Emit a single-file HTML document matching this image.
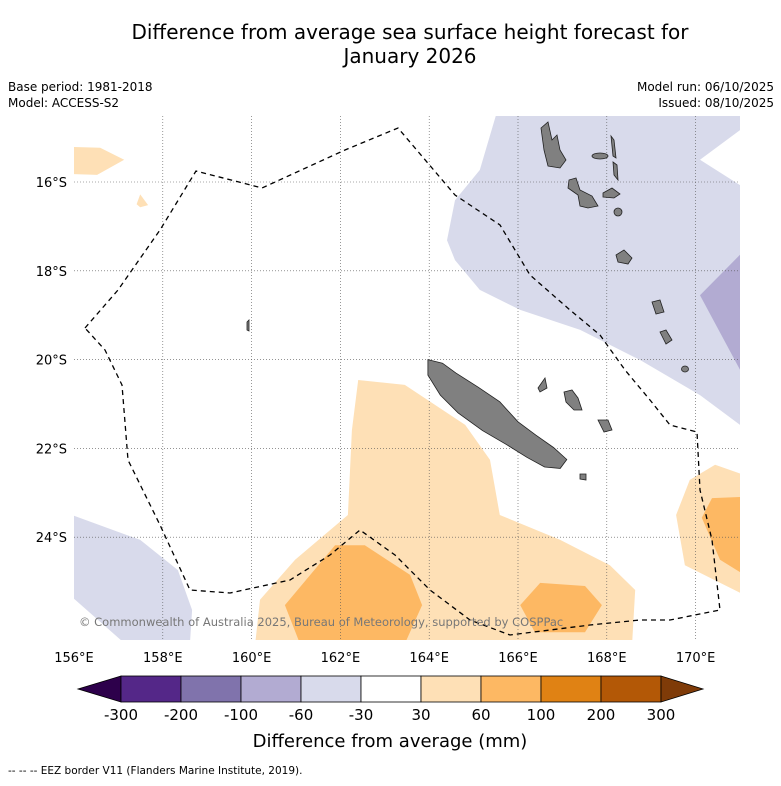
<!DOCTYPE html>
<html><head><meta charset="utf-8"><style>
body{margin:0;background:#fff;font-family:"Liberation Sans","DejaVu Sans",sans-serif;}
svg text{font-family:"DejaVu Sans","Liberation Sans",sans-serif;}
</style></head><body>
<svg id="chart" width="781" height="781" viewBox="0 0 781 781" xmlns="http://www.w3.org/2000/svg">
<rect width="781" height="781" fill="#fff"/>
<text x="410" y="39" font-size="20" text-anchor="middle">Difference from average sea surface height forecast for</text>
<text x="410" y="63" font-size="20" text-anchor="middle">January 2026</text>
<text x="8" y="91" font-size="12">Base period: 1981-2018</text>
<text x="8" y="107" font-size="12">Model: ACCESS-S2</text>
<text x="774" y="91" font-size="12" text-anchor="end">Model run: 06/10/2025</text>
<text x="774" y="107" font-size="12" text-anchor="end">Issued: 08/10/2025</text>
<defs><clipPath id="mapclip"><rect x="74" y="116" width="666" height="524"/></clipPath></defs>
<g id="map" clip-path="url(#mapclip)"></g>
<g id="grid"></g>
<g id="land" clip-path="url(#mapclip)" fill="#808080" stroke="#222" stroke-width="0.8">
<path d="M541,128 L548,122 L552,140 L557,135 L560,150 L566,160 L560,168 L548,166 L544,150 Z"/>
<ellipse cx="600" cy="156" rx="8" ry="3"/>
<path d="M611,136 L614,140 L616,158 L613,156 Z"/>
<path d="M613,162 L617,165 L618,180 L614,175 Z"/>
<path d="M569,180 L576,178 L580,190 L592,196 L598,206 L588,208 L580,206 L578,195 L568,188 Z"/>
<path d="M603,193 L612,188 L620,194 L614,198 L603,197 Z"/>
<ellipse cx="618" cy="212" rx="4" ry="4"/>
<path d="M616,255 L624,250 L632,258 L628,264 L618,262 Z"/>
<path d="M652,302 L660,300 L664,312 L656,314 Z"/>
<path d="M660,332 L666,330 L672,340 L666,344 Z"/>
<ellipse cx="685" cy="369" rx="3.5" ry="3"/>
<path d="M247,322 L249,320 L249,331 L247,330 Z"/>
<path d="M564,392 L572,390 L578,398 L582,410 L574,410 L566,402 Z"/>
<path d="M598,420 L608,420 L612,430 L604,432 Z"/>
<path d="M580,474 L586,474 L586,480 L580,479 Z"/>
<path d="M538,388 L545,378 L547,388 L540,392 Z"/>
<path id="nc"/>
</g>
<path clip-path="url(#mapclip)" d="M85,328 L118,290 L160,230 L196,171 L262,188 L345,150 L398,128 L455,195 L500,225 L530,275 L570,310 L600,335 L625,370 L650,400 L670,425 L697,432 L700,490 L712,540 L720,610 L670,620 L640,620 L590,625 L510,635 L470,620 L430,590 L395,555 L360,530 L330,555 L290,580 L230,593 L190,590 L160,525 L128,460 L122,385 L105,350 Z" fill="none" stroke="#000" stroke-width="1.3" stroke-dasharray="5,4"/>
<text x="79" y="626" font-size="11.5" fill="#777">© Commonwealth of Australia 2025, Bureau of Meteorology, supported by COSPPac</text>
<g id="axes"></g>
<g id="cbar"></g>
<text x="390" y="747" font-size="18" text-anchor="middle">Difference from average (mm)</text>
<text x="8" y="774" font-size="10.5">--  --  -- EEZ border V11 (Flanders Marine Institute, 2019).</text>
</svg>
<script>
const lonTicks=[156,158,160,162,164,166,168,170];
const latTicks=[16,18,20,22,24];
const levelLabels=["-300","-200","-100","-60","-30","30","60","100","200","300"];
const levelColors=["#542788","#8073ac","#b2abd2","#d8daeb","#ffffff","#fee0b6","#fdb863","#e08214","#b35806"];
const extendColors=["#2d004b","#7f3b08"];
// contour regions [lon, lat(S)]
const regionLightPurple=[[165.5,14.51],[171,14.51],[171,14.83],[170.1,15.5],[171,16.07],[171,21.47],[170.1,20.8],[168.75,20.01],[167.4,19.33],[166.05,18.88],[165.14,18.43],[164.58,17.76],[164.4,17.31],[164.58,16.41],[165.14,15.73]];
const regionMidPurple=[[171,17.64],[170.1,18.55],[171,20.23]];
const regionLeftPurple=[[155.9,23.48],[157.49,24.06],[158.34,24.74],[158.66,25.64],[158.61,26.4],[157.15,26.4],[155.9,25.3]];
const regionLightOrange=[[162.4,20.46],[163.45,20.57],[164.81,21.47],[165.37,22.26],[165.59,23.5],[166.95,24.06],[168.07,24.63],[168.64,25.19],[168.57,26.4],[160.08,26.4],[160.19,25.41],[160.98,24.51],[162.17,23.5],[162.26,21.59]];
const regionMidOrange=[[160.75,25.53],[161.88,24.18],[162.55,24.18],[163.57,24.85],[163.84,25.53],[163.45,26.4],[161.09,26.4]];
const regionMidOrange2=[[166.5,25.03],[167.51,25.1],[167.89,25.53],[167.51,26.14],[166.38,26.14],[166.05,25.53]];
const regionRightLightOrange=[[170.44,22.37],[171.1,22.6],[171.1,25.3],[169.76,24.63],[169.56,23.5],[169.87,22.71]];
const regionRightMidOrange=[[170.37,23.12],[171.1,23.09],[171.1,24.85],[170.55,24.51],[170.14,23.56]];
const regionTopLeftOrange=[[155.9,15.21],[156.59,15.23],[157.13,15.5],[156.52,15.84],[155.9,15.82]];
const regionSmallOrange=[[157.41,16.5],[157.49,16.28],[157.67,16.52],[157.49,16.57]];
const newCaledonia=[[163.97,20.0],[164.3,20.08],[164.6,20.3],[165.1,20.62],[165.59,20.95],[166.0,21.4],[166.4,21.7],[166.8,21.98],[167.1,22.25],[166.95,22.45],[166.6,22.42],[166.2,22.2],[165.75,21.92],[165.2,21.6],[164.65,21.2],[164.25,20.8],[163.97,20.35]];

const NS='http://www.w3.org/2000/svg';
const X=lon=>74+(lon-156)*44.4;
const Y=lat=>182+(lat-16)*44.4;
function mk(tag,attrs,parent){const e=document.createElementNS(NS,tag);for(const k in attrs)e.setAttribute(k,attrs[k]);parent.appendChild(e);return e;}
function pathOf(pts){return 'M'+pts.map(p=>X(p[0]).toFixed(1)+','+Y(p[1]).toFixed(1)).join(' L')+' Z';}
const map=document.getElementById('map');
const regions=[[regionLightPurple,'#d8daeb','contour-light-purple'],[regionMidPurple,'#b2abd2','contour-mid-purple'],[regionLeftPurple,'#d8daeb','contour-left-purple'],[regionLightOrange,'#fee0b6','contour-light-orange'],[regionMidOrange,'#fdb863','contour-mid-orange'],[regionMidOrange2,'#fdb863','contour-mid-orange-east'],[regionRightLightOrange,'#fee0b6','contour-right-light-orange'],[regionRightMidOrange,'#fdb863','contour-right-mid-orange'],[regionTopLeftOrange,'#fee0b6','contour-top-left-orange'],[regionSmallOrange,'#fee0b6','contour-small-orange']];
regions.forEach(r=>{const p=mk('path',{d:pathOf(r[0]),fill:r[1]},map);

});
document.getElementById('nc').setAttribute('d',pathOf(newCaledonia));
const grid=document.getElementById('grid'),axes=document.getElementById('axes');
lonTicks.forEach(l=>{if(l>156){const g=mk('line',{x1:X(l),x2:X(l),y1:116,y2:640,stroke:'#555','stroke-width':0.6,'stroke-dasharray':'1,2'},grid);

}
const t=mk('text',{x:X(l),y:662,'font-size':13,'text-anchor':'middle'},axes);t.textContent=l+'°E';

});
latTicks.forEach(l=>{const g=mk('line',{x1:74,x2:740,y1:Y(l),y2:Y(l),stroke:'#555','stroke-width':0.6,'stroke-dasharray':'1,2'},grid);


const t=mk('text',{x:67,y:Y(l)+5,'font-size':13,'text-anchor':'end'},axes);t.textContent=l+'°S';

});
const cb=document.getElementById('cbar');const x0=121,w=60,y0=676,h=26;
const lt=mk('polygon',{points:`${x0},${y0} ${x0},${y0+h} 78,${y0+h/2}`,fill:extendColors[0],stroke:'#000','stroke-width':0.8},cb);


levelColors.forEach((c,i)=>{const r=mk('rect',{x:x0+i*w,y:y0,width:w,height:h,fill:c,stroke:'#000','stroke-width':0.8},cb);

});
const xe=x0+levelColors.length*w;
const rt=mk('polygon',{points:`${xe},${y0} ${xe},${y0+h} 703,${y0+h/2}`,fill:extendColors[1],stroke:'#000','stroke-width':0.8},cb);


levelLabels.forEach((s,i)=>{const t=mk('text',{x:x0+i*w,y:720,'font-size':15,'text-anchor':'middle'},cb);t.textContent=s;

});
</script>
</body></html>
